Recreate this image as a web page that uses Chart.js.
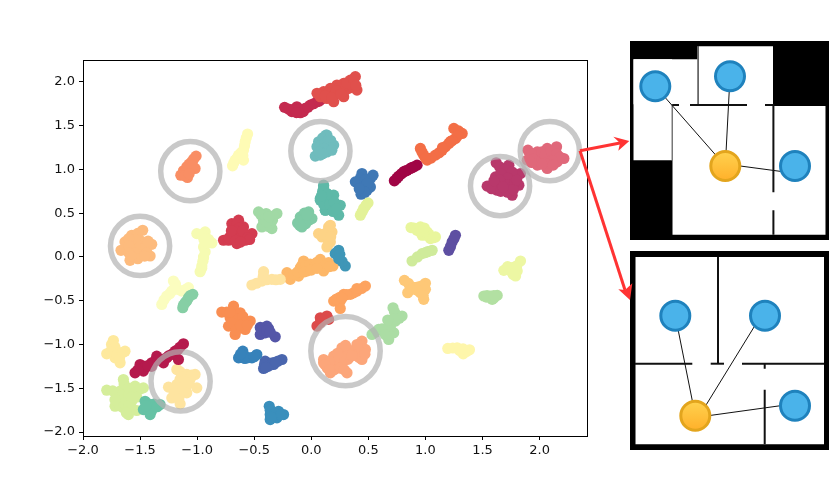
<!DOCTYPE html>
<html>
<head>
<meta charset="utf-8">
<title>embedding</title>
<script src="https://cdn.jsdelivr.net/npm/chart.js@4"></script>
<style>
    html, body { margin: 0; padding: 0; background: #fff; }
    #page { position: relative; width: 831px; height: 491px; overflow: hidden; }
    canvas { position: absolute; display: block; }
    #plan1 { left: 630px; top: 41px; background: #000; }
    #plan2 { left: 630px; top: 251px; background: #000; }
</style>
</head>
<body>
<div id="page">
    <canvas id="mainChart" width="831" height="491" style="left:0;top:0"></canvas>
    <canvas id="plan1" width="199" height="199"></canvas>
    <canvas id="plan2" width="199" height="199"></canvas>
    <canvas id="arrowChart" width="831" height="491" style="left:0;top:0"></canvas>
</div>
<script>
/* axis ticks */
const xTicks = [-2, -1.5, -1, -0.5, 0, 0.5, 1, 1.5, 2];
const yTicks = [-2, -1.5, -1, -0.5, 0, 0.5, 1, 1.5, 2];

/* clusters */
const redTop = [[.386,2.06],[.40,1.907],[.342,2.02],[.284,1.983],[.225,1.964],[.167,1.926],[.108,1.888],[.079,1.83],[.137,1.81],[.196,1.773],[.284,1.83],[.24,1.888],[.328,1.926],[.05,1.87],[.357,1.964],[.298,1.907],[.15,1.87],[.2,1.85],[.25,1.93],[.3,1.96],[.34,1.97],[.12,1.84],[.22,1.9],[.18,1.82],[.31,1.99],[.26,1.86],[.37,2.03],[.39,1.96]];
const crimsonTop = [[-.234,1.709],[-.17,1.66],[-.126,1.716],[-.096,1.648],[-.053,1.697],[-.009,1.735],[.05,1.773],[.085,1.80],[-.2,1.69],[-.15,1.69],[-.11,1.68],[-.07,1.66],[-.03,1.71],[.02,1.75],[.07,1.78],[-.13,1.65]];
const salmonRing = [[-1.009,1.152],[-1.047,1.087],[-1.09,1.03],[-1.12,.984],[-1.143,.934],[-1.085,.908],[-1.018,1.011],[-1.061,.992],[-1.03,1.12],[-1.07,1.06],[-1.1,.98],[-1.04,1.04],[-1.11,.93],[-1.07,.95]];
const paleTop = [[-.558,1.404],[-.579,1.316],[-.594,1.22],[-.637,1.163],[-.667,1.106],[-.69,1.041],[-.594,1.106],[-.57,1.36],[-.585,1.27],[-.615,1.19],[-.65,1.13],[-.68,1.07],[-.6,1.16]];
const tealRing = [[.129,1.392],[.064,1.316],[.05,1.259],[.094,1.22],[.035,1.152],[.137,1.392],[.196,1.278],[.137,1.2],[.079,1.163],[.152,1.297],[.1,1.36],[.08,1.27],[.12,1.3],[.15,1.34],[.17,1.33],[.17,1.25],[.11,1.24],[.07,1.2],[.18,1.22],[.1,1.18]];
const orangeStrip = [[1.249,1.468],[1.322,1.411],[1.263,1.354],[1.205,1.297],[1.146,1.22],[1.088,1.163],[1.015,1.106],[.956,1.24],[.985,1.163],[1.29,1.44],[1.28,1.38],[1.235,1.33],[1.175,1.26],[1.12,1.19],[1.05,1.13],[.97,1.2],[1.0,1.13],[1.22,1.32],[1.15,1.25]];
const maroonStrip = [[.927,1.049],[.868,1.011],[.81,.973],[.766,.923],[.728,.87],[.9,1.03],[.84,.99],[.79,.95],[.75,.9],[.88,1.02],[.82,.98]];
const blueMid = [[.444,.953],[.386,.858],[.444,.839],[.518,.896],[.518,.80],[.436,.717],[.488,.763],[.541,.934],[.43,.9],[.41,.85],[.47,.88],[.46,.8],[.49,.84],[.44,.76],[.47,.74],[.42,.78]];
const limeSmall = [[.497,.618],[.459,.553],[.43,.477],[.48,.59],[.445,.515]];
const magentaRing = [[1.62,1.076],[1.731,1.049],[1.833,.953],[1.614,.915],[1.716,.953],[1.775,.896],[1.541,.809],[1.629,.763],[1.819,.82],[1.76,.706],[1.687,.763],[1.687,.858],[1.614,.839],[1.65,1.03],[1.7,1.0],[1.76,.97],[1.66,.95],[1.72,.9],[1.65,.88],[1.72,.82],[1.78,.84],[1.6,.8],[1.58,.78],[1.66,.75],[1.72,.74],[1.77,.77],[1.8,.88],[1.6,.87],[1.68,.8]];
const roseRing = [[1.898,1.22],[1.98,1.2],[2.067,1.24],[2.149,1.259],[2.213,1.125],[2.155,1.087],[2.067,1.011],[1.98,1.049],[1.892,1.106],[2.097,1.144],[2.009,1.125],[1.93,1.18],[1.95,1.12],[2.02,1.2],[2.05,1.16],[2.1,1.21],[2.15,1.18],[2.18,1.14],[2.11,1.1],[2.05,1.07],[2.02,1.06],[1.93,1.08],[2.12,1.05]];
const peachRing = [[-1.477,.305],[-1.573,.248],[-1.632,.172],[-1.667,.076],[-1.544,.114],[-1.398,.145],[-1.471,.076],[-1.5,.19],[-1.588,-.038],[-1.412,.011],[-1.5,.03],[-1.52,.27],[-1.54,.2],[-1.6,.21],[-1.6,.13],[-1.5,.12],[-1.45,.12],[-1.44,.05],[-1.55,.05],[-1.6,.05],[-1.52,-.02],[-1.46,.01],[-1.43,.18],[-1.58,.01]];
const paleColumn = [[-1.003,.267],[-.93,.286],[-.871,.16],[-.944,.114],[-.944,0],[-.944,-.008],[-.959,-.103],[-.974,-.168],[-.96,.25],[-.9,.2],[-.94,.2],[-.93,.06],[-.95,-.05],[-.96,-.13],[-.91,.16]];
const crimsonMid = [[-.637,.42],[-.696,.381],[-.594,.343],[-.681,.267],[-.769,.191],[-.52,.267],[-.652,.153],[-.579,.191],[-.725,.191],[-.608,.267],[-.65,.38],[-.63,.33],[-.66,.3],[-.62,.23],[-.68,.2],[-.6,.3],[-.56,.22],[-.72,.22],[-.54,.2],[-.66,.19],[-.62,.17],[-.7,.3]];
const greenMid = [[-.462,.515],[-.301,.496],[-.374,.439],[-.433,.343],[-.345,.324],[-.395,.496],[-.418,.42],[-.36,.381],[-.44,.48],[-.4,.44],[-.42,.37],[-.38,.35],[-.34,.42],[-.33,.47],[-.39,.4],[-.37,.46]];
const greenSmall = [[-.023,.515],[-.096,.458],[-.12,.389],[-.082,.343],[-.023,.42],[.006,.439],[-.067,.458],[-.06,.5],[-.05,.45],[-.09,.41],[-.05,.38],[-.04,.48],[-.1,.36]];
const tealMid = [[.108,.80],[.079,.667],[.123,.534],[.108,.82],[.137,.725],[.196,.706],[.079,.648],[.254,.591],[.24,.477],[.123,.534],[.181,.572],[.1,.75],[.12,.68],[.15,.65],[.11,.6],[.16,.6],[.2,.63],[.19,.52],[.22,.55],[.14,.72],[.09,.7]];
const sandMid = [[.167,.362],[.137,.267],[.167,.172],[.094,.229],[.137,.114],[.181,.286],[.064,.267],[.152,.343],[.15,.3],[.12,.24],[.15,.21],[.15,.15],[.11,.26],[.17,.23]];
const tealBlue = [[.298,-.103],[.24,.011],[.24,.076],[.21,.038],[.22,.05],[.25,.03],[.27,-.05],[.24,-.02]];
const limeWide = [[.874,.336],[.956,.343],[1.015,.286],[1.088,.229],[.971,.248],[1.044,.21],[.927,.305],[.9,.33],[.93,.32],[.98,.3],[1.0,.25],[1.03,.26],[1.07,.22],[.95,.29],[.99,.33]];
const purpleSmall = [[1.263,.248],[1.234,.172],[1.205,.076],[1.25,.21],[1.22,.12]];
const limeLow = [[1.059,.076],[.971,.038],[.883,-.046],[1.02,.06],[.93,0],[1.0,.05]];
const limeRight = [[1.833,-.046],[1.687,-.153],[1.76,-.122],[1.79,-.217],[1.76,-.179],[1.804,-.16],[1.73,-.14],[1.78,-.14],[1.72,-.11],[1.8,-.1],[1.77,-.2]];
const sandStrip = [[-.52,-.32],[-.418,-.168],[-.433,-.275],[-.345,-.256],[-.272,-.256],[-.48,-.3],[-.42,-.22],[-.39,-.26],[-.31,-.26]];
const orangeLong = [[-.213,-.179],[-.184,-.256],[-.111,-.218],[-.067,-.046],[-.038,-.16],[.006,-.122],[.079,-.027],[.108,-.16],[.152,-.065],[.079,-.065],[.094,-.122],[.19,-.103],[-.096,-.122],[-.19,-.21],[-.15,-.2],[-.12,-.17],[-.08,-.09],[-.05,-.1],[-.01,-.08],[.03,-.1],[.05,-.06],[.12,-.1],[.16,-.11],[-.06,-.17],[0,-.15],[.05,-.13]];
const orangeDiag = [[.474,-.332],[.401,-.389],[.342,-.427],[.284,-.427],[.196,-.504],[.254,-.588],[.254,-.504],[.44,-.36],[.37,-.41],[.31,-.43],[.25,-.46],[.22,-.48],[.27,-.47],[.4,-.36]];
const peachCross = [[.816,-.267],[.912,-.351],[1.0,-.301],[.845,-.408],[1.0,-.37],[.985,-.484],[.956,-.408],[.85,-.3],[.88,-.34],[.94,-.34],[.97,-.33],[.88,-.37],[.93,-.38],[.98,-.44]];
const greenRight = [[1.512,-.446],[1.57,-.446],[1.629,-.439],[1.585,-.484],[1.54,-.46],[1.6,-.47],[1.54,-.44],[1.6,-.44]];
const greenDiag = [[.716,-.58],[.795,-.675],[.737,-.732],[.678,-.79],[.59,-.828],[.532,-.885],[.678,-.942],[.722,-.866],[.635,-.847],[.73,-.63],[.77,-.7],[.7,-.76],[.72,-.71],[.66,-.82],[.7,-.84],[.62,-.82],[.56,-.86],[.68,-.89],[.65,-.89],[.67,-.72]];
const yellowRight = [[1.196,-1.045],[1.278,-1.037],[1.331,-1.106],[1.386,-1.06],[1.24,-1.04],[1.3,-1.07],[1.36,-1.08],[1.33,-1.05]];
const salmonBig = [[.444,-.961],[.474,-1.056],[.444,-1.171],[.357,-1.075],[.269,-1.037],[.196,-1.133],[.108,-1.209],[.167,-1.323],[.313,-1.323],[.269,-1.228],[.21,-1.228],[.386,-1.056],[.108,-1.171],[.167,-1.247],[.42,-1.0],[.41,-1.06],[.44,-1.1],[.42,-1.15],[.4,-1.0],[.32,-1.06],[.29,-1.1],[.27,-1.14],[.32,-1.17],[.26,-1.2],[.2,-1.17],[.16,-1.2],[.14,-1.27],[.2,-1.29],[.25,-1.27],[.29,-1.29],[.12,-1.23],[.16,-1.29],[.23,-1.1],[.36,-1.13],[.47,-1.11],[.3,-1.01]];
const redSmall = [[.079,-.694],[.05,-.789],[.152,-.713],[.137,-.675],[.079,-.751],[.1,-.72]];
const orangeLeft = [[-.681,-.561],[-.784,-.629],[-.623,-.637],[-.711,-.694],[-.535,-.732],[-.725,-.79],[-.667,-.885],[-.579,-.828],[-.652,-.752],[-.623,-.713],[-.68,-.62],[-.65,-.66],[-.67,-.7],[-.6,-.68],[-.58,-.75],[-.6,-.8],[-.65,-.8],[-.7,-.75],[-.66,-.84],[-.62,-.78],[-.56,-.78],[-.74,-.63],[-.71,-.63]];
const indigoSmall = [[-.447,-.885],[-.389,-.79],[-.447,-.805],[-.316,-.912],[-.374,-.82],[-.404,-.866],[-.43,-.84],[-.39,-.84],[-.36,-.86]];
const blueLeft = [[-.6,-1.076],[-.637,-1.152],[-.52,-1.152],[-.477,-1.114],[-.594,-1.152],[-.6,-1.12],[-.58,-1.16],[-.55,-1.15],[-.5,-1.14],[-.62,-1.11]];
const indigoLow = [[-.404,-1.19],[-.418,-1.274],[-.33,-1.228],[-.257,-1.171],[-.374,-1.247],[-.38,-1.22],[-.34,-1.21],[-.29,-1.19],[-.41,-1.23],[-.31,-1.2],[-.4,-1.26]];
const blueBottom = [[-.368,-1.705],[-.36,-1.8],[-.36,-1.857],[-.301,-1.838],[-.243,-1.8],[-.287,-1.762],[-.36,-1.75],[-.33,-1.82],[-.32,-1.79],[-.27,-1.8],[-.35,-1.83]];
const sandLeft = [[-1.734,-.954],[-1.792,-1.106],[-1.632,-1.076],[-1.719,-1.152],[-1.675,-1.209],[-1.719,-1.076],[-1.75,-1.0],[-1.72,-1.03],[-1.76,-1.08],[-1.7,-1.12],[-1.68,-1.15],[-1.65,-1.09]];
const paleDiag = [[-1.208,-.275],[-1.076,-.351],[-1.31,-.542],[-1.266,-.446],[-1.222,-.389],[-1.135,-.389],[-1.19,-.31],[-1.17,-.37],[-1.1,-.37],[-1.29,-.49],[-1.24,-.42],[-1.2,-.36]];
const greenLeft = [[-1.038,-.427],[-1.076,-.465],[-1.105,-.522],[-1.126,-.58],[-1.09,-.5],[-1.06,-.44],[-1.12,-.55]];
const crimsonLow = [[-1.12,-.992],[-1.193,-1.076],[-1.266,-1.152],[-1.354,-1.133],[-1.398,-1.209],[-1.5,-1.228],[-1.544,-1.323],[-1.471,-1.304],[-1.368,-1.19],[-1.295,-1.209],[-1.164,-1.171],[-1.15,-1.03],[-1.22,-1.11],[-1.3,-1.17],[-1.34,-1.17],[-1.4,-1.25],[-1.46,-1.25],[-1.52,-1.29],[-1.43,-1.24],[-1.25,-1.13],[-1.17,-1.06]];
const sandRing = [[-1.178,-1.285],[-1.018,-1.342],[-1.091,-1.342],[-1.251,-1.487],[-1.003,-1.495],[-1.178,-1.457],[-1.091,-1.457],[-1.222,-1.61],[-1.149,-1.678],[-1.091,-1.552],[-1.164,-1.59],[-1.15,-1.31],[-1.12,-1.37],[-1.15,-1.4],[-1.06,-1.39],[-1.12,-1.42],[-1.15,-1.5],[-1.2,-1.5],[-1.1,-1.5],[-1.15,-1.55],[-1.2,-1.56],[-1.05,-1.35],[-1.16,-1.62],[-1.07,-1.44]];
const tealLow = [[-1.456,-1.648],[-1.325,-1.686],[-1.412,-1.8],[-1.471,-1.743],[-1.383,-1.724],[-1.42,-1.68],[-1.38,-1.68],[-1.43,-1.74],[-1.4,-1.76],[-1.35,-1.71],[-1.45,-1.7]];
const limeBig = [[-1.646,-1.4],[-1.792,-1.522],[-1.675,-1.533],[-1.544,-1.476],[-1.471,-1.495],[-1.719,-1.705],[-1.602,-1.8],[-1.529,-1.754],[-1.632,-1.61],[-1.573,-1.648],[-1.69,-1.648],[-1.646,-1.724],[-1.573,-1.533],[-1.64,-1.45],[-1.6,-1.5],[-1.7,-1.57],[-1.74,-1.53],[-1.66,-1.58],[-1.6,-1.57],[-1.55,-1.55],[-1.5,-1.51],[-1.68,-1.7],[-1.64,-1.67],[-1.6,-1.7],[-1.57,-1.74],[-1.72,-1.63],[-1.57,-1.6],[-1.62,-1.78],[-1.53,-1.6]];

/* earlier in this list = drawn on top */
const clusters = [redSmall, crimsonLow, tealLow, limeBig, sandRing, sandLeft, redTop, crimsonTop, salmonRing, paleTop, tealRing, tealMid, orangeStrip, maroonStrip, blueMid, limeSmall, magentaRing, roseRing, peachRing, paleColumn, crimsonMid, greenMid, greenSmall, tealBlue, sandMid, limeWide, purpleSmall, limeLow, limeRight, sandStrip, orangeLong, orangeDiag, peachCross, greenRight, greenDiag, yellowRight, salmonBig, orangeLeft, indigoSmall, blueLeft, indigoLow, blueBottom, greenLeft, paleDiag];
const clusterColors = ['#dc4a4a', '#b51a4d', '#66c2a5', '#d5ee9b', '#fee4a0', '#fee99d', '#e0504c', '#c42a4f', '#f98e64', '#fefbb5', '#6fbcbd', '#5eb9a8', '#f36e46', '#a00545', '#3f78b5', '#e3f298', '#b8386b', '#e0687a', '#fdbb7d', '#f6fbb2', '#d33c50', '#a1d9a5', '#7fcaa5', '#3f96b7', '#fdd386', '#e9f69d', '#5e4fa2', '#cfeb9b', '#edf7a3', '#fee3a0', '#fdb768', '#fda35f', '#fec877', '#b2e0a2', '#abdda4', '#fef6ab', '#fca67a', '#f98e52', '#5456a8', '#3682ba', '#4a66ae', '#3a8fbc', '#86cfa5', '#fbfdbf'];

/* grey rings */
const ringCentres = [[-1.06,.98],[-1.5,.126],[.08,1.21],[-1.145,-1.42],[1.654,.81],[2.09,1.21]];
const bigRingCentres = [[.30,-1.075]];

/* arrows, in page pixels */
const arrowShaftA = [[580,150.7],[620,143]];
const arrowHeadA = [[629.3,141],[613.3,136.7],[620,143],[618.3,150.7],[629.3,141]];
const arrowShaftB = [[580,150.7],[625,290]];
const arrowHeadB = [[630,300],[618.3,289.3],[625,290],[632.3,283.3],[630,300]];

/* first floor plan */
const plan1Rooms = [[3.3,18.3,42.3,119.3],[3.3,18.3,68,63.3],[69,5.3,143,63.3],[42.3,63,143,193.7],[143,65,195.7,193.7]];
const plan1Walls = [[[42.3,64],[49,64]],[[60,64],[117,64]],[[135,64],[143,64]],[[143.4,63],[143.4,151.3]],[[143.4,169.3],[143.4,193.7]]];
const plan1ThinWalls = [[[68,5.3],[68,63.3]],[[42.3,63.3],[42.3,119.3]]];
const plan1Links = [[[25.3,45.3],[95.3,125]],[[100,35.3],[95.3,125]],[[95.3,123],[165,132.3]]];
const plan1Blue = [[25.3,45.3],[100,35.3],[165,125]];
const plan1Orange = [[95.3,125]];

/* second floor plan */
const plan2Rooms = [[5.3,6,194,193.3]];
const plan2Walls = [[[5,112.7],[62.3,112.7]],[[80.7,112.7],[94,112.7]],[[112,112.7],[194,112.7]],[[88,6],[88,112.7]],[[134.7,112.7],[134.7,117.7]],[[134.7,138.7],[134.7,193.3]]];
const plan2ThinWalls = [];
const plan2Links = [[[45.3,64.7],[65.3,164.7]],[[130.7,65.2],[68.7,166]],[[65.3,166.5],[165,152.7]]];
const plan2Blue = [[45.3,64.7],[135,64.7],[165,154.7]];
const plan2Orange = [[65.3,164.7]];

function tickLabel(v) {
    return v.toFixed(1).replace('-', '\u2212');
}

function lineSet(points, color, width) {
    return { data: points, showLine: true, borderColor: color, borderWidth: width, pointRadius: 0, fill: false };
}

// 메인 산점도
let mainSets = [];
bigRingCentres.forEach(function (p) {
    mainSets.push({ data: [p], pointRadius: 34.7, pointBorderWidth: 5.5, pointBackgroundColor: 'rgba(0,0,0,0)', pointBorderColor: 'rgba(178,178,178,0.7)', order: 0, clip: false });
});
mainSets.push({ data: ringCentres, pointRadius: 29.6, pointBorderWidth: 5.5, pointBackgroundColor: 'rgba(0,0,0,0)', pointBorderColor: 'rgba(178,178,178,0.7)', order: 0, clip: false });
clusters.forEach(function (c, i) {
    mainSets.push({ data: c, pointRadius: 5.6, pointBorderWidth: 0, pointBackgroundColor: clusterColors[i], order: 1 });
});

new Chart(document.getElementById('mainChart'), {
    type: 'scatter',
    data: { datasets: mainSets },
    options: {
        responsive: false,
        animation: false,
        events: [],
        layout: { autoPadding: false, padding: { top: 60, right: 243.5, left: 0, bottom: 0 } },
        plugins: { legend: { display: false }, tooltip: { enabled: false } },
        scales: {
            x: {
                min: -2, max: 2.42,
                afterBuildTicks: function (s) { s.ticks = xTicks.map(function (v) { return { value: v }; }); },
                afterFit: function (s) { s.height = 55; },
                grid: { drawOnChartArea: false, color: '#000', tickLength: 4 },
                border: { color: '#000' },
                ticks: { color: '#111', padding: 3, maxRotation: 0, autoSkip: false, font: { family: 'DejaVu Sans', size: 13 }, callback: tickLabel }
            },
            y: {
                min: -2.045, max: 2.25,
                afterBuildTicks: function (s) { s.ticks = yTicks.map(function (v) { return { value: v }; }); },
                afterFit: function (s) { s.width = 83; },
                grid: { drawOnChartArea: false, color: '#000', tickLength: 4 },
                border: { color: '#000' },
                ticks: { color: '#111', padding: 4, autoSkip: false, font: { family: 'DejaVu Sans', size: 13 }, callback: tickLabel }
            },
            xTop: { position: 'top', grid: { display: false }, border: { color: '#000' }, ticks: { display: false }, afterFit: function (s) { s.height = 0; } },
            yRight: { position: 'right', grid: { display: false }, border: { color: '#000' }, ticks: { display: false }, afterFit: function (s) { s.width = 0; } }
        }
    }
});

/* 평면도 */
function drawPlan(id, rooms, walls, thinWalls, links, blue, orange) {
    let sets = [];
    sets.push({
        data: orange, pointRadius: 14.5, pointBorderWidth: 3, pointBorderColor: '#e3a51d',
        pointBackgroundColor: function (c) {
            let y = c.chart.scales.y.getPixelForValue(orange[0][1]);
            if (!isFinite(y)) {
                return '#ffc23c';
            }
            let g = c.chart.ctx.createLinearGradient(0, y - 15, 0, y + 15);
            g.addColorStop(0, '#ffd24f');
            g.addColorStop(1, '#ffb02a');
            return g;
        }
    });
    sets.push({ data: blue, pointRadius: 14.5, pointBorderWidth: 3, pointBorderColor: '#1f82bd', pointBackgroundColor: '#4ab3ea' });
    links.forEach(function (l) { sets.push(lineSet(l, '#111', 1)); });
    walls.forEach(function (w) { sets.push(lineSet(w, '#111', 2)); });
    thinWalls.forEach(function (w) { sets.push(lineSet(w, '#777', 1)); });
    rooms.forEach(function (r) {
        sets.push({ data: [[r[0], r[1]], [r[2], r[1]]], showLine: true, borderWidth: 0, pointRadius: 0, backgroundColor: '#fff', fill: { value: r[3] } });
    });
    new Chart(document.getElementById(id), {
        type: 'scatter',
        data: { datasets: sets },
        options: {
            responsive: false,
            animation: false,
            events: [],
            layout: { autoPadding: false },
            plugins: { legend: { display: false }, tooltip: { enabled: false } },
            scales: {
                x: { display: false, min: 0, max: 199 },
                y: { display: false, min: 0, max: 199, reverse: true }
            }
        }
    });
}

drawPlan('plan1', plan1Rooms, plan1Walls, plan1ThinWalls, plan1Links, plan1Blue, plan1Orange);
drawPlan('plan2', plan2Rooms, plan2Walls, plan2ThinWalls, plan2Links, plan2Blue, plan2Orange);

/* 빨간 화살표 */
function headSet(points) {
    return { data: points, showLine: true, borderWidth: 0, pointRadius: 0, backgroundColor: '#ff3333', fill: 'shape' };
}

new Chart(document.getElementById('arrowChart'), {
    type: 'scatter',
    data: {
        datasets: [
            headSet(arrowHeadA),
            headSet(arrowHeadB),
            lineSet(arrowShaftA, '#ff3333', 3),
            lineSet(arrowShaftB, '#ff3333', 3)
        ]
    },
    options: {
        responsive: false,
        animation: false,
        events: [],
        layout: { autoPadding: false },
        plugins: { legend: { display: false }, tooltip: { enabled: false } },
        scales: {
            x: { display: false, min: 0, max: 831 },
            y: { display: false, min: 0, max: 491, reverse: true }
        }
    }
});
</script>
</body>
</html>
